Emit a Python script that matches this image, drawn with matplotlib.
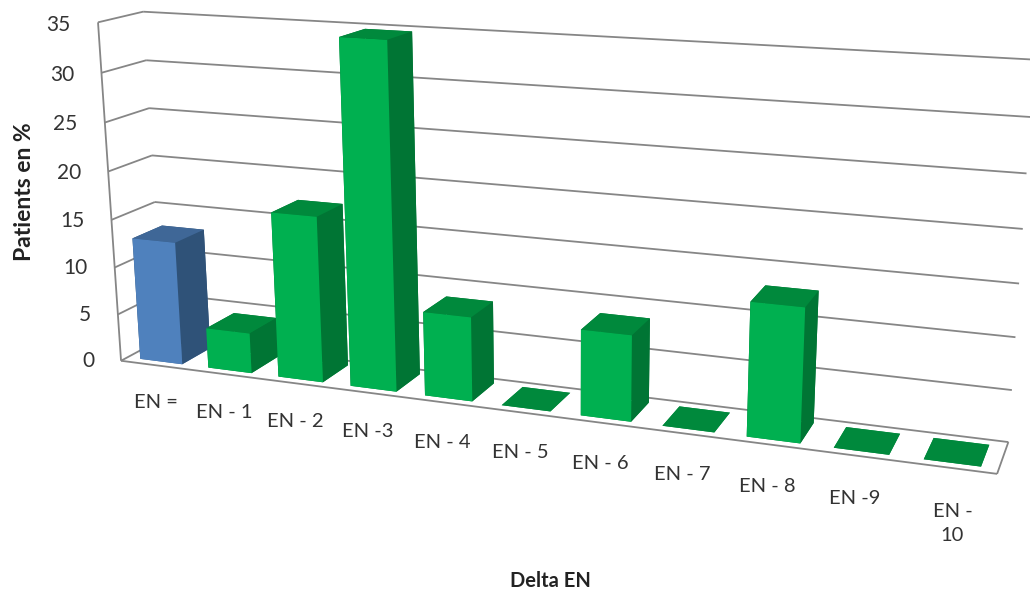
import numpy as np
import matplotlib
matplotlib.use("Agg")
import matplotlib.pyplot as plt
from mpl_toolkits.mplot3d.art3d import Line3DCollection

WIDTH, HEIGHT = 1030, 597

categories = ["EN =", "EN - 1", "EN - 2", "EN -3", "EN - 4", "EN - 5", "EN - 6",
              "EN - 7", "EN - 8", "EN -9", "EN -\n10"]
values = [12.9, 4.2, 17, 34.7, 8.5, 0, 8.5, 0, 12.9, 0, 0]
y_ticks = [0, 5, 10, 15, 20, 25, 30, 35]

FRONT_GREEN, TOP_GREEN, SIDE_GREEN = "#00B050", "#00893C", "#007534"
FRONT_BLUE, TOP_BLUE, SIDE_BLUE = "#4F81BD", "#3F6797", "#2F5278"
GRID = "#868686"
TEXT = "#333333"

plt.rcParams["font.family"] = ["Lato", "DejaVu Sans"]

# the 3D view of the original: chart frame (category, depth, value) -> picture pixel
frame_points = np.array([
    (0, 0, 0), (0, 0, 10), (0, 0, 20), (0, 0, 35),
    (0, 1, 15), (0, 1, 25), (0, 1, 35),
    (11, 0, 0), (11, 1, 0), (11, 1, 10), (11, 1, 20), (11, 1, 30),
], dtype=float)
frame_pixels = np.array([
    (120, 361), (115, 267), (110, 172), (97, 22),
    (155, 202), (149, 108), (143, 12),
    (997, 474), (1008, 442), (1016, 337), (1023, 229), (1030, 117),
], dtype=float)


def fit_view(points, pixels):
    rows, rhs = [], []
    for (x, y, z), (u, v) in zip(points, pixels):
        rows.append([x, y, z, 1, 0, 0, 0, 0, -u * x, -u * y, -u * z])
        rows.append([0, 0, 0, 0, x, y, z, 1, -v * x, -v * y, -v * z])
        rhs += [u, v]
    h = np.linalg.lstsq(np.array(rows), np.array(rhs), rcond=None)[0]
    return np.append(h, 1).reshape(3, 4)


VIEW = fit_view(frame_points, frame_pixels)


def to_figure(x, y, z):
    u, v, w = VIEW @ [x, y, z, 1]
    return u / w / WIDTH, 1 - v / w / HEIGHT


fig = plt.figure(figsize=(WIDTH / 100, HEIGHT / 100), dpi=100)
ax = fig.add_axes([0, 0, 1, 1], projection="3d")


def get_proj():
    flip = np.array([[1, 0, 0], [0, -1, HEIGHT], [0, 0, 1]], dtype=float)
    to_data = ax.transData.inverted().get_matrix()
    p = to_data @ flip @ VIEW
    return np.vstack([p[0], p[1], p[2] - [0, 0, 0, 1], p[2]])


ax.get_proj = get_proj
ax.computed_zorder = False
ax.set_axis_off()

n = len(categories)
segments = []
for t in y_ticks:
    segments.append([(0, 1, t), (n, 1, t)])
    segments.append([(0, 0, t), (0, 1, t)])
segments.append([(0, 0, 0), (0, 0, max(y_ticks))])
segments.append([(0, 0, 0), (n, 0, 0)])
segments.append([(n, 0, 0), (n, 1, 0)])
grid = Line3DCollection(segments, colors=GRID, linewidths=1.3, zorder=1)
ax.add_collection3d(grid, autolim=False)
grid.set_clip_on(False)

face_colors = []
for i in range(n):
    if i == 0:
        front, top, side = FRONT_BLUE, TOP_BLUE, SIDE_BLUE
    else:
        front, top, side = FRONT_GREEN, TOP_GREEN, SIDE_GREEN
    face_colors += [top, top, front, side, side, side]

pos = np.arange(n) + 0.19
bars = ax.bar3d(pos, np.full(n, 0.15), np.zeros(n), 0.62, 0.69, values,
                color=face_colors, shade=False, zorder=2)
bars.set_clip_on(False)

for i, label in enumerate(categories):
    two_lines = "\n" in label
    fx, fy = to_figure(i + (0.48 if not two_lines else 0.56), 0, -4.1 if not two_lines else -5.2)
    fig.text(fx, fy, label, ha="center", va="center",
             fontsize=14.5, color=TEXT, linespacing=1.55)
for t in y_ticks:
    fx, fy = to_figure(-0.4, 0, t - 0.4)
    fig.text(fx, fy, str(t), ha="right", va="center", fontsize=15, color=TEXT)

fig.text(25 / WIDTH, 1 - 192 / HEIGHT, "Patients en %", rotation=90, ha="center", va="center",
         fontsize=16.5, fontweight="bold", color="#222222")
fig.text(550 / WIDTH, 1 - 581 / HEIGHT, "Delta EN", ha="center", va="center",
         fontsize=14.5, fontweight="bold", color="#222222")

fig.savefig("out.png", dpi=100)
